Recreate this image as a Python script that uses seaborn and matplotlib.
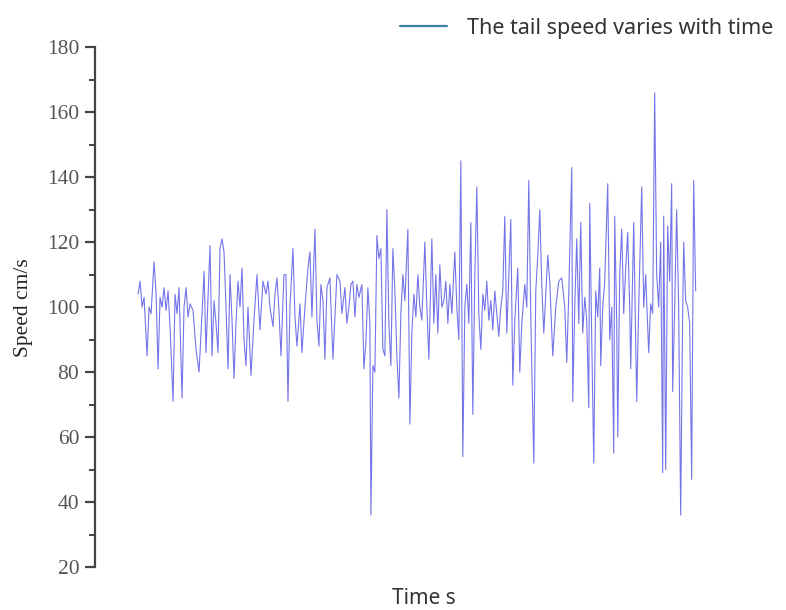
import numpy as np
import pandas as pd
import matplotlib
matplotlib.use("Agg")
import matplotlib.pyplot as plt
import seaborn as sns
from matplotlib.ticker import MultipleLocator

# Sample positions (in 0.05 s steps) and tail speed
sample_step = [
    0, 2, 4, 6, 9, 11, 13, 16, 18, 20, 22, 24, 26, 28, 30, 32, 35, 37, 39, 41,
    44, 46, 48, 50, 52, 55, 58, 61, 64, 66, 68, 70, 72, 74, 76, 78, 80, 82, 84, 86,
    88, 90, 92, 94, 96, 98, 100, 102, 104, 106, 108, 110, 113, 116, 119, 122, 125, 128, 130, 132,
    135, 137, 139, 141, 143, 146, 148, 150, 152, 155, 157, 159, 162, 164, 167, 170, 172, 174, 177, 179,
    181, 183, 185, 187, 189, 192, 195, 197, 199, 202, 204, 207, 209, 211, 213, 215, 217, 219, 221, 224,
    226, 228, 230, 232, 233, 235, 237, 239, 241, 243, 245, 247, 249, 251, 253, 255, 257, 259, 261, 263,
    265, 267, 270, 272, 274, 276, 278, 280, 282, 284, 287, 289, 291, 294, 296, 298, 300, 302, 304, 306,
    308, 310, 312, 314, 317, 319, 321, 323, 325, 327, 329, 331, 333, 335, 337, 339, 341, 343, 345, 347,
    349, 351, 353, 355, 357, 359, 361, 363, 365, 367, 369, 371, 373, 375, 377, 380, 382, 384, 387, 389,
    391, 393, 396, 398, 400, 402, 404, 406, 408, 410, 412, 415, 418, 421, 424, 427, 429, 431, 434, 435,
    437, 439, 441, 443, 445, 447, 449, 451, 452, 454, 456, 458, 460, 462, 463, 465, 467, 470, 472, 474,
    476, 477, 479, 480, 482, 484, 486, 488, 490, 492, 493, 495, 496, 498, 499, 501, 504, 506, 508, 510,
    511, 513, 515, 517, 519, 521, 523, 525, 526, 528, 530, 532, 534, 535, 537, 539, 541, 543, 545, 546,
    548, 550, 552, 554, 556, 558,
]
speed = [
    104, 108, 100, 103, 85, 100, 98, 114, 104, 81, 103, 100, 106, 99, 105, 94, 71, 104, 98, 106,
    72, 100, 106, 97, 101, 99, 87, 80, 98, 111, 86, 103, 119, 85, 102, 95, 86, 118, 121, 117,
    100, 81, 110, 96, 78, 95, 108, 100, 112, 90, 82, 100, 79, 96, 110, 93, 108, 104, 108, 100,
    94, 104, 109, 99, 85, 110, 110, 71, 100, 118, 97, 88, 101, 86, 100, 112, 117, 97, 124, 96,
    88, 107, 102, 84, 106, 109, 84, 97, 110, 108, 98, 106, 95, 100, 107, 108, 97, 107, 103, 107,
    81, 89, 106, 95, 36, 82, 80, 122, 115, 118, 87, 85, 130, 95, 82, 118, 105, 85, 72, 98,
    110, 102, 124, 64, 92, 104, 97, 110, 100, 96, 120, 100, 84, 121, 95, 110, 92, 113, 100, 102,
    108, 95, 107, 98, 117, 100, 90, 145, 54, 100, 107, 95, 126, 67, 110, 137, 98, 87, 104, 99,
    108, 96, 102, 93, 105, 98, 91, 100, 105, 128, 92, 110, 127, 76, 96, 112, 80, 95, 107, 100,
    139, 97, 52, 105, 116, 130, 107, 92, 104, 116, 108, 85, 100, 108, 109, 100, 83, 104, 143, 71,
    100, 121, 95, 126, 92, 103, 96, 69, 132, 90, 52, 105, 97, 112, 82, 100, 108, 138, 90, 100,
    55, 128, 95, 60, 110, 124, 98, 112, 123, 100, 81, 110, 126, 90, 71, 100, 137, 100, 110, 94,
    86, 101, 98, 166, 110, 100, 120, 49, 128, 50, 125, 108, 138, 74, 100, 130, 100, 36, 98, 120,
    102, 100, 95, 47, 139, 105,
]
df = pd.DataFrame({"time": np.array(sample_step) * 0.05, "speed": speed})

sns.set_style("white")
plt.rcParams["font.family"] = ["Noto Sans", "DejaVu Sans"]

fig = plt.figure(figsize=(7.86, 6.10), dpi=100)
ax = fig.add_axes([0.121, 0.0705, 0.82, 0.852])

sns.lineplot(data=df, x="time", y="speed", ax=ax, color="#5c5ce6",
             linewidth=0.8, alpha=0.85, label="The tail speed varies with time")

ax.set_ylim(20, 180)
ax.set_xlim(-2.15, 30.1)
ax.yaxis.set_major_locator(MultipleLocator(20))
ax.yaxis.set_minor_locator(MultipleLocator(10))
ax.set_xticks([])

for side in ["top", "right", "bottom"]:
    ax.spines[side].set_visible(False)
ax.spines["left"].set_color("#444444")
ax.spines["left"].set_linewidth(1.6)
ax.tick_params(axis="y", which="major", direction="out", length=7.5, width=1.6, pad=4,
               color="#444444", labelcolor="#555555", left=True)
ax.tick_params(axis="y", which="minor", direction="out", length=4, width=1.4,
               color="#444444", left=True)
for lab in ax.get_yticklabels():
    lab.set_family("Liberation Serif")
    lab.set_fontsize(15.5)

ax.set_ylabel("Speed cm/s", family="Liberation Serif", fontsize=15.5, color="#222222")
ax.yaxis.set_label_coords(-0.097, 0.5)
ax.set_xlabel("Time s", fontsize=15, color="#333333")
ax.xaxis.set_label_coords(0.51, -0.04)

leg = ax.legend(loc="lower right", bbox_to_anchor=(1.065, 1.0), frameon=False,
                fontsize=15.5, handlelength=2.2, handletextpad=0.9, borderaxespad=0)
for line in leg.get_lines():
    line.set_color("#3d7ea6")
    line.set_linewidth(1.6)
    line.set_alpha(1)
for t in leg.get_texts():
    t.set_color("#333333")

fig.savefig("out.png", dpi=100)
